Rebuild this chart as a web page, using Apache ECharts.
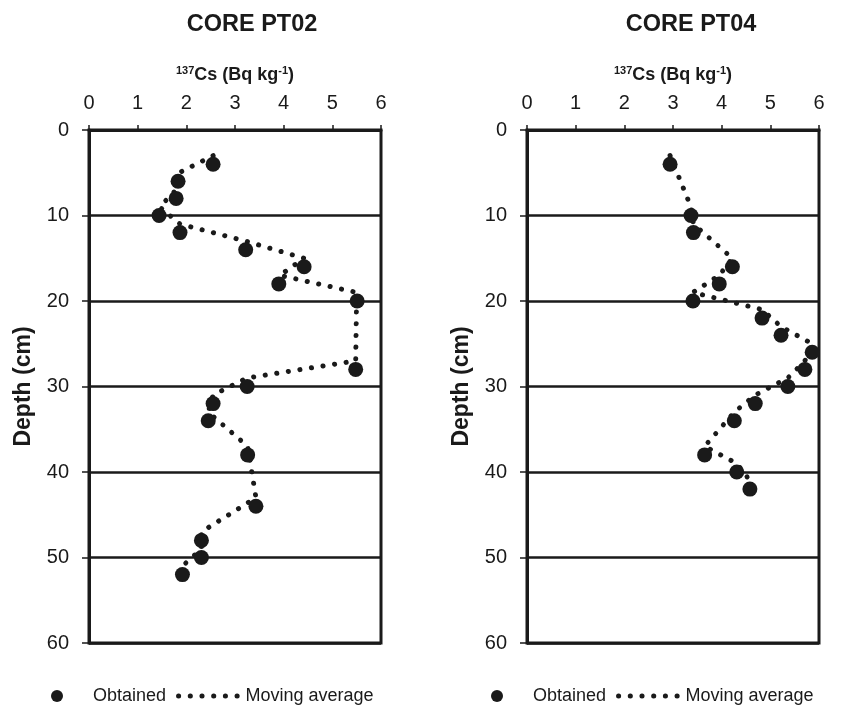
<!DOCTYPE html>
<html>
<head>
<meta charset="utf-8">
<script src="https://cdn.jsdelivr.net/npm/echarts@6/dist/echarts.min.js"></script>
<style>
  html, body { margin: 0; padding: 0; background: #fff; }
  #chart { width: 856px; height: 705px; }
</style>
</head>
<body>
<div id="chart"></div>
<script>
// CORE PT02
var pt02Depth = [4, 6, 8, 10, 12, 14, 16, 18, 20, 28, 30, 32, 34, 38, 44, 48, 50, 52];
var pt02Cs = [2.55, 1.83, 1.79, 1.44, 1.87, 3.22, 4.42, 3.90, 5.51, 5.48, 3.25, 2.55, 2.45, 3.26, 3.43, 2.31, 2.31, 1.92];
var pt02MaDepth = [3, 5, 7, 9, 11, 13, 15, 17, 19, 27, 29, 31, 33, 37, 43, 47, 49, 51];
var pt02MaCs = [2.55, 1.85, 1.79, 1.45, 1.87, 3.22, 4.42, 3.92, 5.5, 5.48, 3.25, 2.55, 2.45, 3.26, 3.43, 2.31, 2.31, 1.92];

// CORE PT04
var pt04Depth = [4, 10, 12, 16, 18, 20, 22, 24, 26, 28, 30, 32, 34, 38, 40, 42];
var pt04Cs = [2.94, 3.37, 3.42, 4.22, 3.95, 3.41, 4.83, 5.22, 5.86, 5.71, 5.36, 4.69, 4.26, 3.65, 4.31, 4.58];
var pt04MaDepth = [3, 9, 11, 15, 17, 19, 21, 23, 25, 27, 29, 31, 33, 37, 39, 41];
var pt04MaCs = [2.94, 3.37, 3.42, 4.22, 3.95, 3.41, 4.83, 5.22, 5.86, 5.71, 5.36, 4.69, 4.26, 3.65, 4.31, 4.58];

var titles = ['CORE PT02', 'CORE PT04'];
var xTicks = [0, 6, 1];   // min, max, step
var yTicks = [0, 60, 10];

var ink = '#1a1a1a';
var font = '"Liberation Sans", Arial, sans-serif';
var dotLine = { color: ink, width: 5, type: [0.1, 11.6], cap: 'round' };

function pairs(xs, ys) {
  var out = [];
  for (var i = 0; i < xs.length; i++) out.push([xs[i], ys[i]]);
  return out;
}

function xAxisFor(idx) {
  return {
    type: 'value', gridIndex: idx, position: 'top',
    min: xTicks[0], max: xTicks[1], interval: xTicks[2],
    axisLine: { show: true, onZero: false, lineStyle: { color: ink, width: 3 } },
    axisTick: { show: true, length: 5, lineStyle: { color: ink, width: 1.5 } },
    axisLabel: { fontSize: 20, color: ink, margin: 17, fontFamily: font },
    splitLine: { show: false },
    name: '{sup|137}{b|Cs (Bq kg}{sup|-1}{b|)}',
    nameLocation: 'middle', nameGap: 44,
    nameTextStyle: {
      rich: {
        b: { fontSize: 18, fontWeight: 'bold', color: ink, fontFamily: font },
        sup: { fontSize: 11, fontWeight: 'bold', color: ink, fontFamily: font, padding: [0, 0, 10, 0] }
      }
    }
  };
}

function yAxisFor(idx) {
  return {
    type: 'value', gridIndex: idx, inverse: true,
    min: yTicks[0], max: yTicks[1], interval: yTicks[2],
    axisLine: { show: true, onZero: false, lineStyle: { color: ink, width: 3 } },
    axisTick: { show: true, length: 7, lineStyle: { color: ink, width: 1.5 } },
    axisLabel: { fontSize: 20, color: ink, margin: 20, fontFamily: font },
    splitLine: { show: true, lineStyle: { color: ink, width: 2.5 } },
    name: 'Depth (cm)', nameLocation: 'middle', nameGap: 54, nameRotate: 90,
    nameTextStyle: { fontSize: 23, fontWeight: 'bold', color: ink, fontFamily: font }
  };
}

function seriesFor(idx, cs, depth, maCs, maDepth) {
  return [
    {
      name: 'Moving average', type: 'line', xAxisIndex: idx, yAxisIndex: idx,
      data: pairs(maCs, maDepth), symbol: 'none', z: 2,
      lineStyle: dotLine,
      itemStyle: { color: ink }
    },
    {
      name: 'Obtained', type: 'scatter', xAxisIndex: idx, yAxisIndex: idx,
      data: pairs(cs, depth), symbol: 'circle', symbolSize: 15, z: 3,
      itemStyle: { color: ink, opacity: 1 }
    }
  ];
}

function legendFor(left) {
  return {
    left: left, top: 682, orient: 'horizontal',
    itemWidth: 62, itemHeight: 12, itemGap: 10,
    data: [
      { name: 'Obtained' },
      { name: 'Moving average', itemStyle: { opacity: 0 }, lineStyle: dotLine }
    ],
    textStyle: { fontSize: 18, color: ink, fontFamily: font },
    selectedMode: false
  };
}

var chart = echarts.init(document.getElementById('chart'), null, { renderer: 'canvas' });
chart.setOption({
  animation: false,
  backgroundColor: '#fff',
  textStyle: { fontFamily: font },
  title: [
    { text: titles[0], left: 247, top: 8, textAlign: 'center',
      textStyle: { fontSize: 23.5, fontWeight: 'bold', color: ink, fontFamily: font } },
    { text: titles[1], left: 686, top: 8, textAlign: 'center',
      textStyle: { fontSize: 23.5, fontWeight: 'bold', color: ink, fontFamily: font } }
  ],
  grid: [
    { left: 89, top: 130, width: 292, height: 513, show: true, borderColor: ink, borderWidth: 3, backgroundColor: 'transparent' },
    { left: 527, top: 130, width: 292, height: 513, show: true, borderColor: ink, borderWidth: 3, backgroundColor: 'transparent' }
  ],
  xAxis: [xAxisFor(0), xAxisFor(1)],
  yAxis: [yAxisFor(0), yAxisFor(1)],
  legend: [legendFor(46), legendFor(486)],
  series: seriesFor(0, pt02Cs, pt02Depth, pt02MaCs, pt02MaDepth)
    .concat(seriesFor(1, pt04Cs, pt04Depth, pt04MaCs, pt04MaDepth))
});
</script>
</body>
</html>
